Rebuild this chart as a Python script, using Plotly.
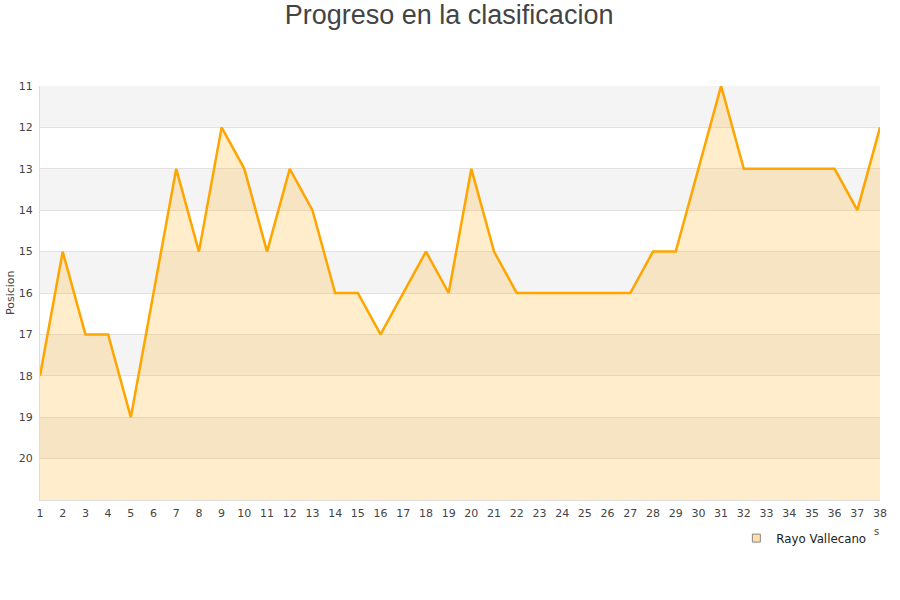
import plotly.graph_objects as go

jornadas = list(range(1, 39))
posiciones = [18, 15, 17, 17, 19, 16, 13, 15, 12, 13, 15, 13, 14, 16, 16, 17, 16, 15, 16, 13,
              15, 16, 16, 16, 16, 16, 16, 15, 15, 13, 11, 13, 13, 13, 13, 13, 14, 12]
equipo = "Rayo Vallecano"
y_ticks = list(range(11, 21))
fondo = 21

fig = go.Figure()

# alternating bands
shapes = []
for k in range(11, 21, 2):
    shapes.append(dict(type="rect", xref="paper", yref="y", x0=0, x1=1, y0=k, y1=k + 1,
                       fillcolor="#f4f4f4", line=dict(width=0), layer="below"))

# baseline for the fill
fig.add_trace(go.Scatter(
    x=jornadas, y=[fondo] * len(jornadas), mode="lines",
    line=dict(width=0, color="rgba(0,0,0,0)"), showlegend=False, hoverinfo="skip"))

fig.add_trace(go.Scatter(
    x=jornadas, y=posiciones, mode="lines",
    line=dict(color="#ffa500", width=2.5),
    fill="tonexty", fillcolor="rgba(255,165,0,0.2)",
    showlegend=False, hoverinfo="x+y"))

# legend entry
fig.add_trace(go.Scatter(
    x=[None], y=[None], mode="markers", name=equipo,
    marker=dict(symbol="square", size=8, color="rgba(255,222,170,1)",
                line=dict(color="#888", width=1))))

fig.update_layout(
    width=900, height=600,
    margin=dict(l=40, r=20, t=86, b=100),
    paper_bgcolor="white", plot_bgcolor="white",
    title=dict(text="Progreso en la clasificacion", x=0.499, xanchor="center", y=0.975, yanchor="middle",
               font=dict(family="Liberation Sans, Arial, sans-serif", size=27, color="#444")),
    font=dict(family="DejaVu Sans, sans-serif", size=11, color="#444"),
    shapes=shapes,
    xaxis=dict(range=[1, 38], tickmode="array", tickvals=jornadas, ticks="", automargin=False,
               showgrid=False, zeroline=False, showline=True, linecolor="#ddd", linewidth=1,
               ticklabelstandoff=3, tickfont=dict(size=11, color="#444")),
    yaxis=dict(range=[21, 11], tickmode="array", tickvals=y_ticks, ticks="", automargin=False,
               showgrid=True, gridcolor="#e2e2e2", gridwidth=1, zeroline=False,
               showline=True, linecolor="#ddd", linewidth=1, ticklabelstandoff=4,
               tickfont=dict(size=11, color="#444")),
    legend=dict(x=0.829, y=-0.057, xanchor="left", yanchor="top", bgcolor="rgba(0,0,0,0)",
                font=dict(size=11.8, color="#222")),
    annotations=[
        dict(text="Posicion", xref="paper", yref="paper", x=(10 - 40) / 840, y=0.5, textangle=-90,
             showarrow=False, font=dict(size=11, color="#444"), xanchor="center", yanchor="middle"),
        dict(text="s", xref="paper", yref="paper", x=(876 - 40) / 840, y=-(531 - 500) / 414,
             showarrow=False, font=dict(size=10, color="#444"), xanchor="center", yanchor="middle"),
    ],
)

fig.write_html("out.html", config={"displayModeBar": False},
               post_script="document.body.style.margin='0';")
